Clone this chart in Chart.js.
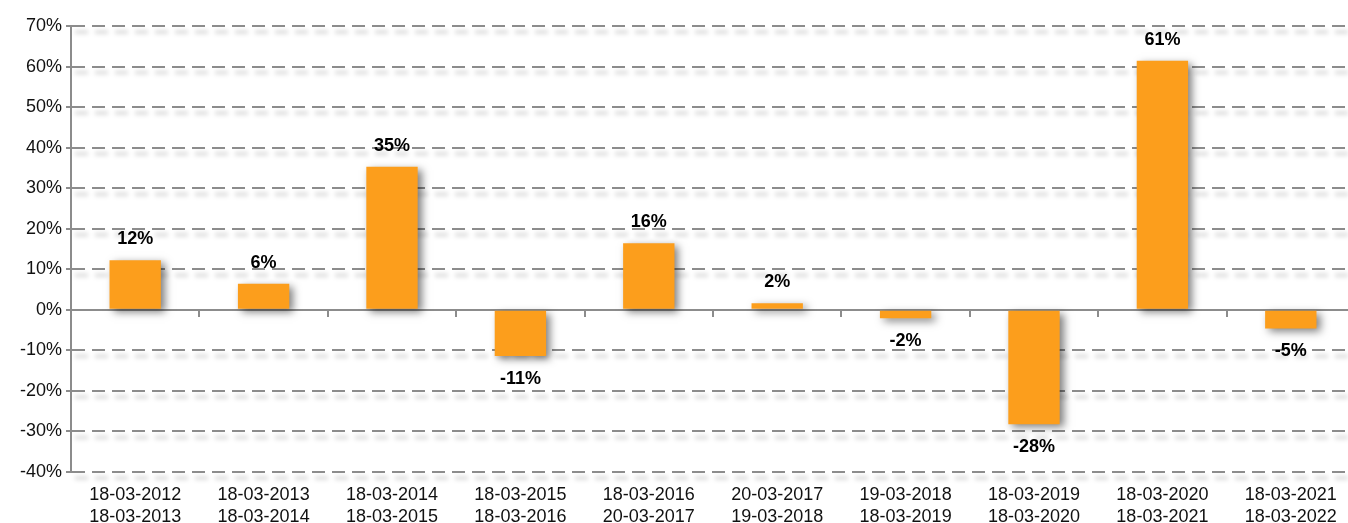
<!doctype html>
<html>
<head>
<title>Annual returns</title>
<script src="https://cdn.jsdelivr.net/npm/chart.js@4/dist/chart.umd.min.js"></script>
<style>
	html, body { margin: 0; padding: 0; overflow: hidden; background: #fff; }
	#wrap { width: 1356px; height: 523px; position: relative; }
</style>
</head>
<body>
<div id="wrap"><canvas id="canvas"></canvas></div>
<script>
var periodStart = ['18-03-2012', '18-03-2013', '18-03-2014', '18-03-2015', '18-03-2016', '20-03-2017', '19-03-2018', '18-03-2019', '18-03-2020', '18-03-2021'];
var periodEnd = ['18-03-2013', '18-03-2014', '18-03-2015', '18-03-2016', '20-03-2017', '19-03-2018', '18-03-2019', '18-03-2020', '18-03-2021', '18-03-2022'];
var returns = [12.2, 6.4, 35.3, -11.4, 16.4, 1.6, -2.1, -28.2, 61.4, -4.6];
var yTicks = [-40, -30, -20, -10, 0, 10, 20, 30, 40, 50, 60, 70];

var labels = periodStart.map(function(s, i) { return [s, periodEnd[i]]; });
var gridGray = '#8c8c8c';
var fontFamily = '"Liberation Sans", Arial, sans-serif';

var extras = {
	id: 'extras',
	beforeDraw: function(chart) {
		// soft shadow under the dashed gridlines
		var ctx = chart.ctx, y = chart.scales.y, area = chart.chartArea;
		ctx.save();
		ctx.filter = 'blur(2px)';
		ctx.strokeStyle = 'rgba(0,0,0,0.13)';
		ctx.lineWidth = 4;
		ctx.setLineDash([13, 7]);
		yTicks.forEach(function(v) {
			if (v === 0) return;
			var py = y.getPixelForValue(v) + 6;
			ctx.beginPath();
			ctx.moveTo(area.left + 4, py);
			ctx.lineTo(area.right, py);
			ctx.stroke();
		});
		ctx.restore();
	},
	beforeDatasetsDraw: function(chart) {
		var ctx = chart.ctx;
		ctx.save();
		ctx.shadowColor = 'rgba(0,0,0,0.5)';
		ctx.shadowBlur = 8;
		ctx.shadowOffsetX = 4;
		ctx.shadowOffsetY = 3;
	},
	afterDatasetsDraw: function(chart) {
		var ctx = chart.ctx;
		ctx.restore();
		var meta = chart.getDatasetMeta(0);
		ctx.save();
		ctx.font = 'bold 18px ' + fontFamily;
		ctx.fillStyle = '#000';
		ctx.textAlign = 'center';
		ctx.textBaseline = 'middle';
		meta.data.forEach(function(bar, i) {
			var v = returns[i];
			var ty = v >= 0 ? bar.y - 21 : bar.y + 23;
			ctx.fillText(Math.round(v) + '%', bar.x, ty);
		});
		ctx.restore();
	}
};

var config = {
	type: 'bar',
	data: {
		labels: labels,
		datasets: [{
			data: returns,
			backgroundColor: '#fc9e1c',
			borderWidth: 0,
			barPercentage: 0.4,
			categoryPercentage: 1,
			xAxisID: 'x',
			yAxisID: 'y'
		}]
	},
	options: {
		responsive: true,
		maintainAspectRatio: false,
		animation: false,
		layout: { padding: { top: 26, right: 1, bottom: 0, left: 0 } },
		plugins: {
			legend: { display: false },
			tooltip: { enabled: false }
		},
		scales: {
			y: {
				min: -40,
				max: 70,
				afterFit: function(scale) { scale.width = 71; },
				afterBuildTicks: function(scale) {
					scale.ticks = yTicks.map(function(v) { return { value: v }; });
				},
				ticks: {
					callback: function(v) { return v + '%'; },
					color: '#111',
					padding: 4,
					font: { family: fontFamily, size: 18 }
				},
				grid: {
					color: gridGray,
					lineWidth: 2,
					tickLength: 5,
					tickBorderDash: []
				},
				border: { display: true, color: gridGray, width: 2, dash: [13, 7] }
			},
			x: {
				type: 'category',
				position: { y: 0 },
				offset: true,
				ticks: { display: false },
				grid: {
					offset: true,
					drawOnChartArea: false,
					color: gridGray,
					lineWidth: 2,
					tickLength: 6
				},
				border: { display: true, color: gridGray, width: 2 }
			},
			x2: {
				type: 'category',
				position: 'bottom',
				labels: labels,
				offset: true,
				afterFit: function(scale) { scale.height = 51; },
				grid: { display: false },
				border: { display: false },
				ticks: {
					color: '#111',
					padding: 5,
					maxRotation: 0,
					autoSkip: false,
					font: { family: fontFamily, size: 18, lineHeight: 1.17 }
				}
			}
		}
	},
	plugins: [extras]
};

window.onload = function() {
	var ctx = document.getElementById('canvas').getContext('2d');
	window.myBar = new Chart(ctx, config);
};
</script>
</body>
</html>
